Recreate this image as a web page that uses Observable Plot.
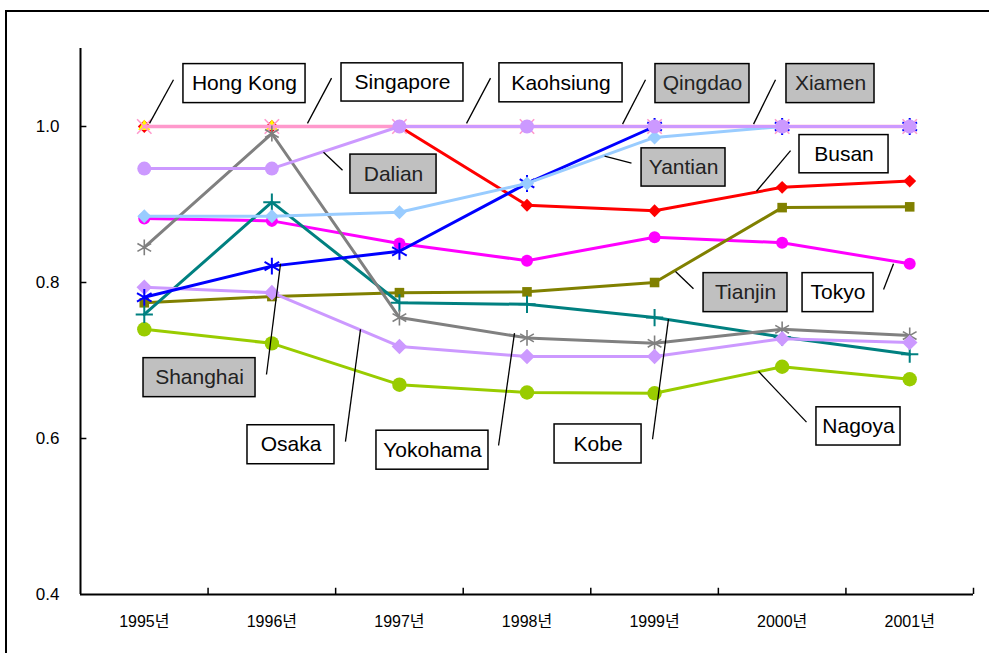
<!DOCTYPE html>
<html>
<head>
<meta charset="utf-8">
<script src="https://cdn.jsdelivr.net/npm/d3@7"></script>
<script src="https://cdn.jsdelivr.net/npm/@observablehq/plot@0.6"></script>
<style>
  body { margin: 0; background: #fff; }
  #wrap { position: relative; width: 989px; height: 653px; overflow: hidden; }
  #border { position: absolute; left: 5px; top: 10px; width: 1000px; height: 700px;
            border: 2px solid #000; box-sizing: border-box; pointer-events: none; }
</style>
</head>
<body>
<div id="wrap"><div id="chart"></div><div id="border"></div></div>
<script>
// Port efficiency scores, 1995–2001
const years = ["1995년", "1996년", "1997년", "1998년", "1999년", "2000년", "2001년"];
const yTicks = [0.4, 0.6, 0.8, 1.0];

const kaohsiung = [1.0, 1.0, 1.0, 1.0, 1.0, 1.0, 1.0];
const qingdao   = [1.0, 1.0, 1.0, 1.0, 1.0, 1.0, 1.0];
const xiamen    = [1.0, 1.0, 1.0, 1.0, 1.0, 1.0, 1.0];
const busan     = [1.0, 1.0, 1.0, 0.899, 0.892, 0.922, 0.930];
const singapore = [1.0, 1.0, 1.0, 1.0, 1.0, 1.0, 1.0];
const hongKong  = [1.0, 1.0, 1.0, 1.0, 1.0, 1.0, 1.0];
const tokyo     = [0.882, 0.879, 0.850, 0.828, 0.858, 0.851, 0.824];
const tianjin   = [0.774, 0.782, 0.787, 0.788, 0.800, 0.896, 0.897];
const nagoya    = [0.740, 0.722, 0.669, 0.659, 0.658, 0.692, 0.676];
const kobe      = [0.759, 0.903, 0.774, 0.772, 0.755, 0.730, 0.708];
const yokohama  = [0.845, 0.991, 0.755, 0.729, 0.722, 0.740, 0.732];
const osaka     = [0.794, 0.787, 0.718, 0.705, 0.705, 0.728, 0.723];
const shanghai  = [0.781, 0.821, 0.840, 0.927, 1.0, 1.0, 1.0];
const yantian   = [0.885, 0.885, 0.890, 0.927, 0.986, 1.0, 1.0];
const dalian    = [0.946, 0.946, 1.0, 1.0, 1.0, 1.0, 1.0];

// Callout boxes: [x left, x right, y top, y bottom] and leader [x from, y from, x to, y to]
const labelNames = ["Hong Kong", "Singapore", "Kaohsiung", "Qingdao", "Xiamen", "Dalian", "Yantian",
  "Busan", "Tianjin", "Tokyo", "Shanghai", "Osaka", "Yokohama", "Kobe", "Nagoya"];
const labelShaded = [false, false, false, true, true, true, true, false, true, false, true, false, false, false, false];
const labelBoxes = [
  [0.307, 1.264, 1.080, 1.030], [1.546, 2.502, 1.081, 1.032], [2.784, 3.749, 1.081, 1.031],
  [4.007, 4.744, 1.080, 1.030], [5.034, 5.724, 1.080, 1.030], [1.616, 2.291, 0.964, 0.914],
  [3.898, 4.556, 0.972, 0.923], [5.136, 5.834, 0.989, 0.940], [4.384, 5.042, 0.812, 0.762],
  [5.160, 5.716, 0.812, 0.762], [-0.006, 0.872, 0.703, 0.653], [0.809, 1.491, 0.617, 0.567],
  [1.820, 2.698, 0.610, 0.560], [3.216, 3.898, 0.618, 0.568], [5.269, 5.928, 0.640, 0.591]
];
const labelLeaders = [
  [0.229, 1.060, 0.041, 1.004], [1.468, 1.062, 1.279, 1.004], [2.714, 1.062, 2.526, 1.004],
  [3.929, 1.060, 3.749, 1.003], [4.948, 1.060, 4.776, 1.003], [1.554, 0.944, 1.405, 0.967],
  [3.819, 0.953, 3.608, 0.962], [5.066, 0.969, 4.799, 0.917], [4.305, 0.792, 4.164, 0.814],
  [5.795, 0.791, 5.873, 0.824], [0.958, 0.682, 1.068, 0.824], [1.577, 0.596, 1.695, 0.740],
  [2.777, 0.591, 2.902, 0.735], [3.984, 0.599, 4.109, 0.753], [5.191, 0.621, 4.815, 0.686]
];

// Series drawn bottom to top
const series = [
  {name: "Kaohsiung", values: kaohsiung, color: "#cc99ff", width: 2.5},
  {name: "Qingdao",   values: qingdao,   color: "#cc99ff", width: 2.5},
  {name: "Xiamen",    values: xiamen,    color: "#cc99ff", width: 2.5},
  {name: "Busan",     values: busan,     color: "#ff0000", width: 3, symbol: "diamond2", r: 5.8, filled: true},
  {name: "Singapore", values: singapore, color: "#ffff00", width: 2.5, symbol: "triangle", r: 4.5, filled: true},
  {name: "Hong Kong", values: hongKong,  color: "#ff99cc", width: 3.5, symbol: "times", r: 6.6, filled: false, sw: 1.6},
  {name: "Tokyo",     values: tokyo,     color: "#ff00ff", width: 3, symbol: "circle", r: 6, filled: true},
  {name: "Tianjin",   values: tianjin,   color: "#808000", width: 3, symbol: "square", r: 5.4, filled: true},
  {name: "Nagoya",    values: nagoya,    color: "#99cc00", width: 3, symbol: "circle", r: 7.2, filled: true},
  {name: "Kobe",      values: kobe,      color: "#008080", width: 3, symbol: "plus", r: 5.6, filled: false, sw: 2},
  {name: "Yokohama",  values: yokohama,  color: "#808080", width: 3, symbol: "asterisk", r: 7.5, filled: false, sw: 1.6},
  {name: "Osaka",     values: osaka,     color: "#cc99ff", width: 3, symbol: "diamond2", r: 7, filled: true},
  {name: "Shanghai",  values: shanghai,  color: "#0000ff", width: 3, symbol: "asterisk", r: 8, filled: false, sw: 2},
  {name: "Yantian",   values: yantian,   color: "#99ccff", width: 3, symbol: "diamond2", r: 6.3, filled: true},
  {name: "Dalian",    values: dalian,    color: "#cc99ff", width: 3, symbol: "circle", r: 7, filled: true}
];

const rowsOf = s => s.values.map((v, i) => ({i, v, name: s.name}));

const labels = labelNames.map((name, k) => ({
  name,
  shaded: labelShaded[k],
  x1: labelBoxes[k][0], x2: labelBoxes[k][1], y1: labelBoxes[k][2], y2: labelBoxes[k][3],
  lx1: labelLeaders[k][0], ly1: labelLeaders[k][1], lx2: labelLeaders[k][2], ly2: labelLeaders[k][3]
}));

const seriesMarks = series.flatMap(s => {
  const rows = rowsOf(s);
  const m = [Plot.line(rows, {x: "i", y: "v", stroke: s.color, strokeWidth: s.width})];
  if (s.symbol) {
    m.push(Plot.dot(rows, {
      x: "i", y: "v", symbol: s.symbol, r: s.r,
      fill: s.filled ? s.color : "none",
      stroke: s.filled ? "none" : s.color,
      strokeWidth: s.sw || 1
    }));
  }
  return m;
});

const bounds = d3.range(0.5, 7, 1);
const font = "'Liberation Sans', Arial, 'Noto Sans CJK KR', sans-serif";

const chart = Plot.plot({
  width: 989,
  height: 653,
  marginLeft: 80,
  marginRight: 16,
  marginTop: 48,
  marginBottom: 59,
  style: {fontFamily: font, background: "#fff", color: "#000"},
  x: {type: "linear", domain: [-0.5, 6.5]},
  y: {type: "linear", domain: [0.4, 1.1]},
  marks: [
    ...seriesMarks,
    // axes
    Plot.ruleX([-0.5], {stroke: "#000", strokeWidth: 2}),
    Plot.ruleY([0.4], {stroke: "#000", strokeWidth: 2}),
    Plot.ruleY(yTicks.slice(1), {y: d => d, x1: -0.5, x2: -0.45, stroke: "#000", strokeWidth: 1.5}),
    Plot.ruleX(bounds, {x: d => d, y1: 0.4, y2: 0.408, stroke: "#000", strokeWidth: 1.5}),
    Plot.axisY({ticks: yTicks, tickSize: 0, tickPadding: 21, tickFormat: d3.format(".1f"),
      fontSize: 17, label: null}),
    Plot.axisX({ticks: d3.range(7), tickSize: 0, tickPadding: 21, tickFormat: i => years[i],
      fontSize: 16, label: null}),
    // callouts
    Plot.link(labels, {x1: "lx1", y1: "ly1", x2: "lx2", y2: "ly2", stroke: "#000", strokeWidth: 1.3}),
    Plot.rect(labels, {x1: "x1", x2: "x2", y1: "y1", y2: "y2",
      fill: d => d.shaded ? "#c0c0c0" : "#ffffff", stroke: "#000", strokeWidth: 1.5}),
    Plot.text(labels, {x: d => (d.x1 + d.x2) / 2, y: d => (d.y1 + d.y2) / 2, text: "name",
      fontSize: 21, fill: d => d.shaded ? "#222" : "#000"})
  ]
});

document.getElementById("chart").appendChild(chart);
</script>
</body>
</html>
